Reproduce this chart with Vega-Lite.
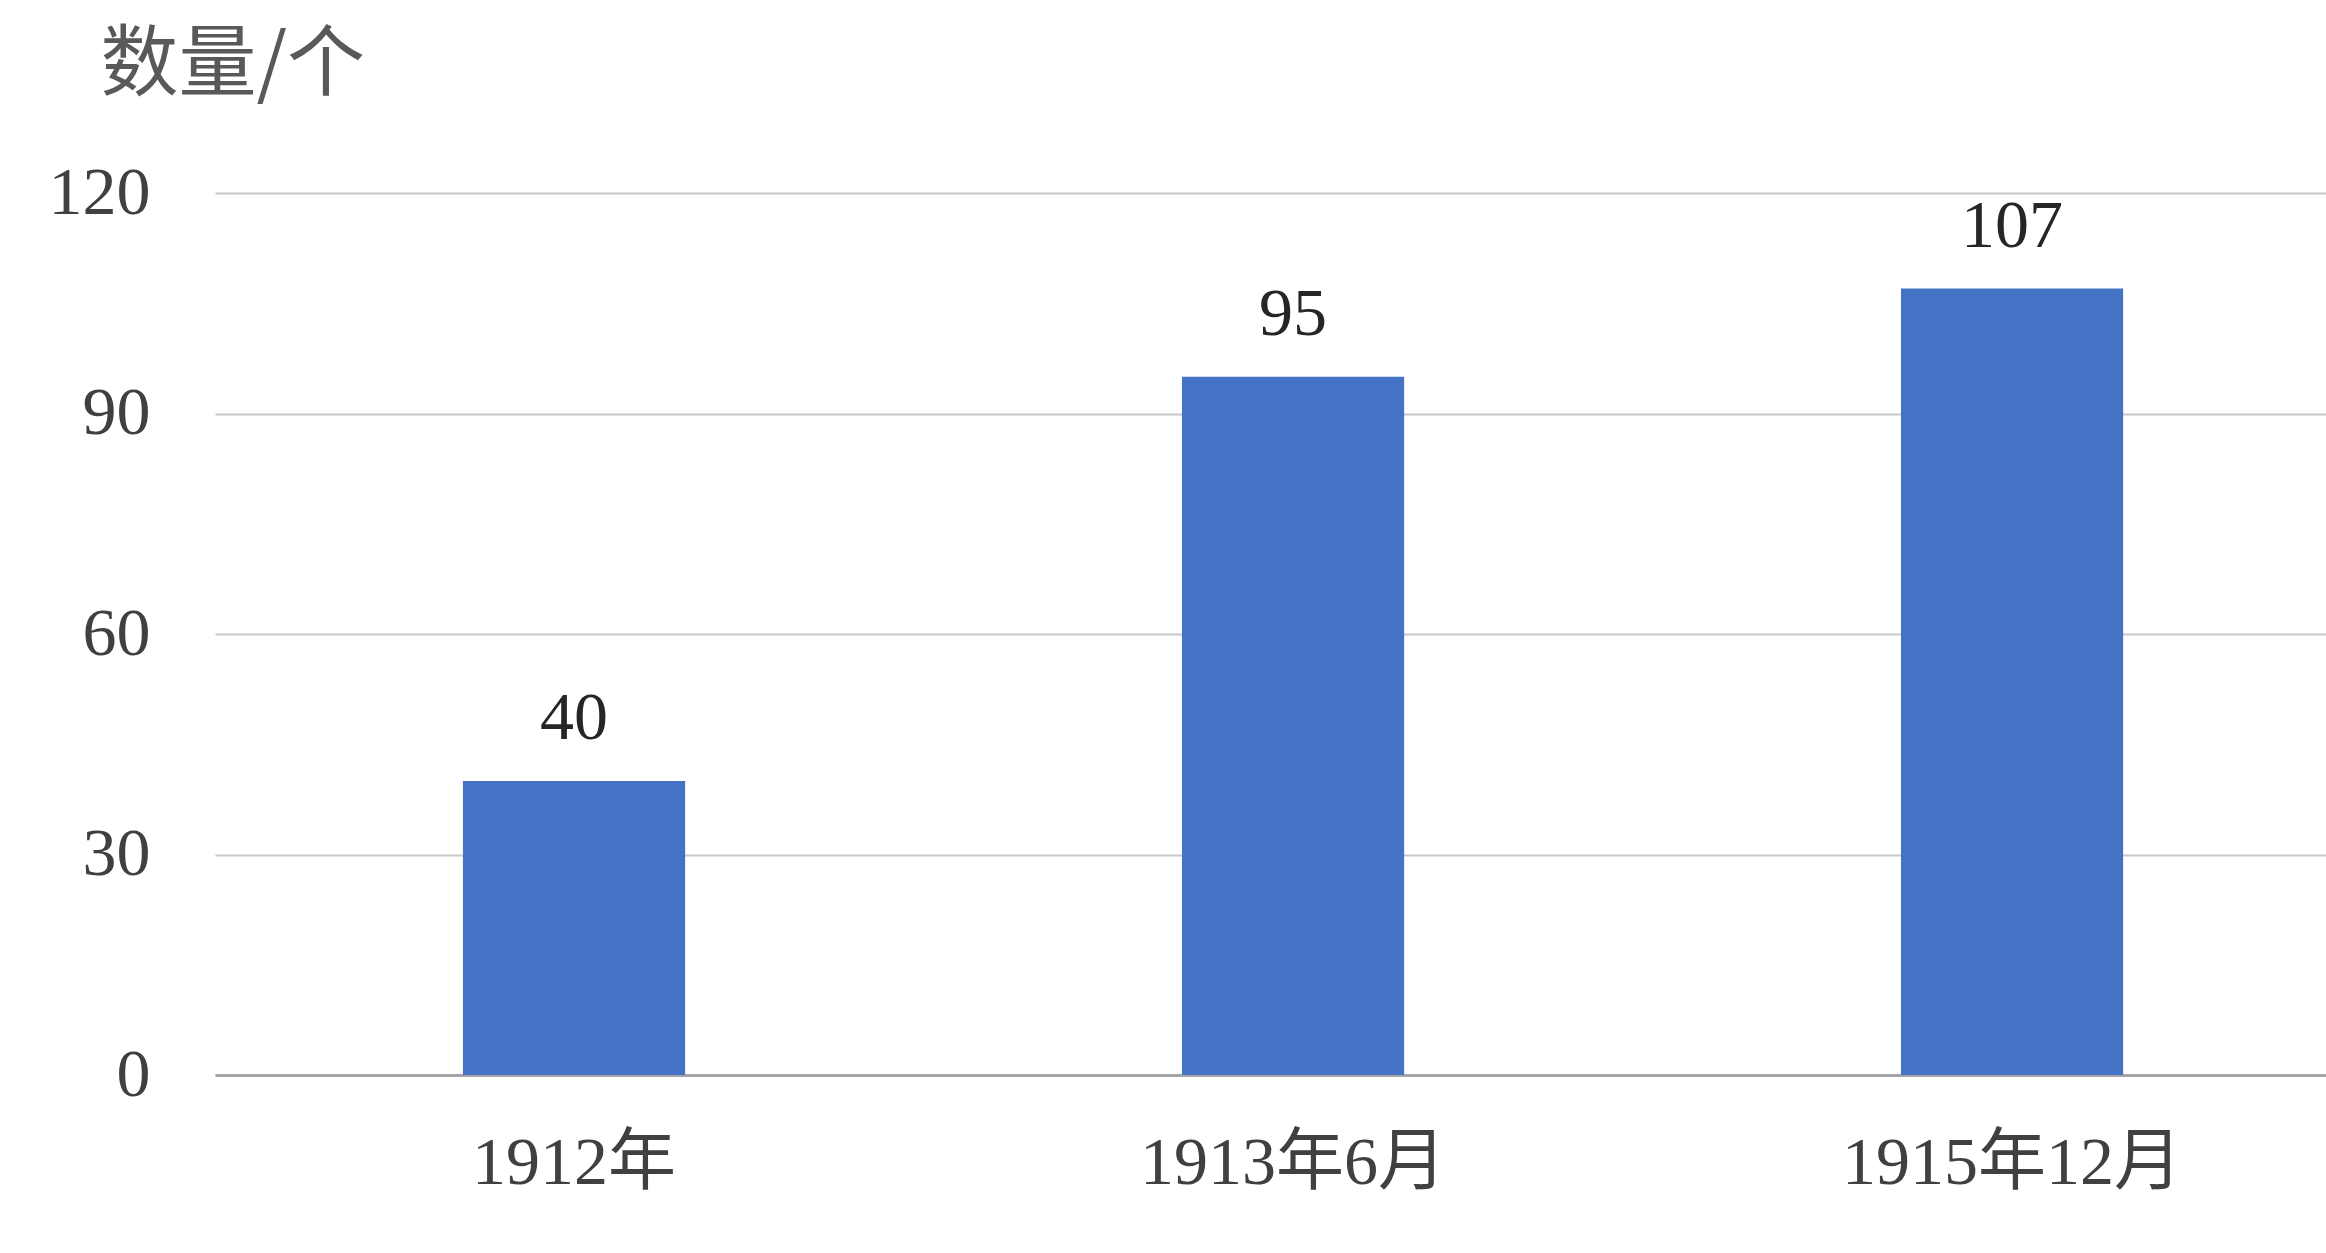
{
  "$schema": "https://vega.github.io/schema/vega-lite/v6.json",
  "autosize": "none",
  "width": 2111,
  "height": 882,
  "padding": {"left": 215, "top": 193, "right": 0, "bottom": 178},
  "background": "white",
  "config": {"view": {"stroke": null}},
  "data": {"values": [
    {"period": "1912年", "count": 40},
    {"period": "1913年6月", "count": 95},
    {"period": "1915年12月", "count": 107}
  ]},
  "encoding": {
    "x": {"field": "period", "type": "nominal", "sort": null,
      "scale": {"paddingInner": 0.691, "paddingOuter": 0.3135, "align": 0.55},
      "axis": {"title": null, "labelAngle": 0, "ticks": false, "domain": true, "domainColor": "#a6a6a6", "domainWidth": 3,
        "labelFont": "Liberation Serif, Noto Sans CJK SC", "labelFontSize": 68, "labelColor": "#404040", "labelLimit": 0,
        "labelBaseline": "alphabetic", "labelPadding": 108}},
    "y": {"field": "count", "type": "quantitative",
      "scale": {"domain": [0, 120]},
      "axis": {"values": [0, 30, 60, 90, 120], "ticks": false, "domain": false, "grid": true, "gridColor": "#c8c8c8", "gridWidth": 2,
        "labelFont": "Liberation Serif", "labelFontSize": 68, "labelColor": "#404040", "labelPadding": 65,
        "title": "数量/个", "titleAngle": 0, "titleX": -115, "titleY": -166, "titleAlign": "left", "titleBaseline": "top",
        "titleFont": "Noto Sans CJK SC", "titleFontSize": 78, "titleFontWeight": "normal", "titleColor": "#595959"}}
  },
  "layer": [
    {"mark": {"type": "bar", "color": "#4472C4"}},
    {"mark": {"type": "text", "baseline": "alphabetic", "dy": -42, "font": "Liberation Serif", "fontSize": 68, "color": "#262626"},
      "encoding": {"text": {"field": "count", "type": "quantitative"}}}
  ]
}
